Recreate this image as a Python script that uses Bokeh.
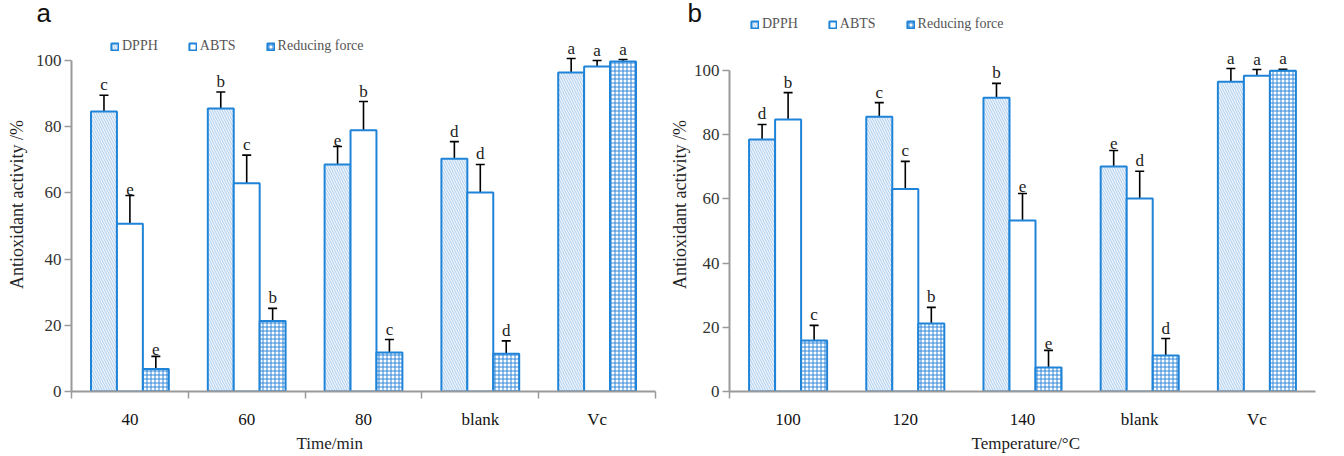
from bokeh.plotting import figure
from bokeh.models import (ColumnDataSource, Range1d, FixedTicker, Whisker, TeeHead,
                          Legend, LegendItem, Title)
from bokeh.transform import dodge
from bokeh.layouts import row
from bokeh.core.properties import value
from bokeh.embed import file_html
from bokeh.resources import INLINE

# ---------------- data ----------------
series_names = ["DPPH", "ABTS", "Reducing force"]

cats_a = ["40", "60", "80", "blank", "Vc"]
dpph_a = [84.6, 85.5, 68.6, 70.3, 96.4]
dpph_a_err = [4.9, 5.0, 5.4, 5.2, 4.2]
abts_a = [50.7, 62.9, 78.9, 60.1, 98.2]
abts_a_err = [8.5, 8.5, 8.7, 8.5, 1.8]
rf_a = [6.8, 21.3, 11.8, 11.4, 99.7]
rf_a_err = [3.8, 3.8, 3.9, 3.9, 0.6]
dpph_a_lab = ["c", "b", "e", "d", "a"]
abts_a_lab = ["e", "c", "b", "d", "a"]
rf_a_lab = ["e", "b", "c", "d", "a"]

cats_b = ["100", "120", "140", "blank", "Vc"]
dpph_b = [78.5, 85.6, 91.5, 70.1, 96.5]
dpph_b_err = [4.7, 4.4, 4.5, 5.0, 4.1]
abts_b = [84.7, 63.1, 53.3, 60.1, 98.4]
abts_b_err = [8.4, 8.6, 8.4, 8.5, 1.9]
rf_b = [15.9, 21.2, 7.5, 11.2, 99.9]
rf_b_err = [4.7, 5.0, 5.3, 5.3, 0.5]
dpph_b_lab = ["d", "c", "b", "e", "a"]
abts_b_lab = ["b", "c", "e", "d", "a"]
rf_b_lab = ["c", "b", "e", "d", "a"]

y_ticks = [0, 20, 40, 60, 80, 100]

SERIF = "Liberation Serif"
SANS = "Liberation Sans"
BLUE = "#1f84d8"
AXIS = "#9a9a9a"
W = 0.222
TOP = 17
BOTTOM = 65


def make_panel(cats, vals, errs, labs, xtitle, letter, g):
    n = len(cats)
    data = dict(xc=[i + 0.5 for i in range(n)])
    keys = ["d", "a", "r"]
    for k, v, e, l in zip(keys, vals, errs, labs):
        data[k] = v
        data[k + "_hi"] = [a + b for a, b in zip(v, e)]
        data[k + "_lab"] = l
    src = ColumnDataSource(data)

    yend = (456 - BOTTOM - TOP) / g["ppu"]
    p = figure(width=g["width"], height=456, output_backend="svg", toolbar_location=None,
               x_range=Range1d(0, n), y_range=Range1d(0, yend),
               min_border_left=g["left"], min_border_right=g["right"],
               min_border_top=TOP, min_border_bottom=BOTTOM)
    p.outline_line_color = None
    p.xgrid.visible = False
    p.ygrid.visible = False

    # x axis
    xa = p.xaxis[0]
    xa.ticker = FixedTicker(ticks=[i + 0.5 for i in range(n)], minor_ticks=g["xminor"])
    xa.major_label_overrides = {i + 0.5: c for i, c in enumerate(cats)}
    xa.major_tick_line_color = None
    xa.major_tick_in = 0
    xa.major_tick_out = 0
    xa.minor_tick_in = 0
    xa.minor_tick_out = 7
    xa.minor_tick_line_color = AXIS
    xa.minor_tick_line_width = 1.5
    xa.axis_line_color = AXIS
    xa.axis_line_width = 2
    xa.major_label_text_font = SERIF
    xa.major_label_text_font_size = "17px"
    xa.major_label_text_color = "#111111"
    xa.major_label_standoff = 11

    # y axis
    ya = p.yaxis[0]
    ya.ticker = FixedTicker(ticks=y_ticks)
    ya.bounds = (0, 100)
    ya.minor_tick_line_color = None
    ya.major_tick_in = 0
    ya.major_tick_out = 7
    ya.major_tick_line_color = AXIS
    ya.major_tick_line_width = 1.5
    ya.axis_line_color = AXIS
    ya.axis_line_width = 2
    ya.major_label_text_font = SERIF
    ya.major_label_text_font_size = "17px"
    ya.major_label_text_color = "#333333"
    ya.major_label_standoff = 3
    ya.axis_label = "Antioxidant activity /%"
    ya.axis_label_text_font = SERIF
    ya.axis_label_text_font_style = "normal"
    ya.axis_label_text_font_size = "18px"
    ya.axis_label_text_color = "#222222"
    ya.axis_label_standoff = g["ylab_standoff"]

    styles = [
        dict(fill_color="#edf4fc", hatch_pattern="\\", hatch_color="#aecdef", hatch_scale=5, hatch_weight=1),
        dict(fill_color="white"),
        dict(fill_color="white", hatch_pattern="+", hatch_color="#2f86d8", hatch_scale=4, hatch_weight=1),
    ]
    offs = [-W, 0, W]
    rends = []
    for k, off, st in zip(keys, offs, styles):
        r = p.vbar(x=dodge("xc", off), top=k, width=W, source=src,
                   line_color=BLUE, line_width=2, **st)
        rends.append(r)
        p.add_layout(Whisker(source=src, base=dodge("xc", off), lower=k, upper=k + "_hi",
                             dimension="height", line_color="black", line_width=1.6,
                             upper_head=TeeHead(size=9, line_color="black", line_width=1.6),
                             lower_head=None))
        p.text(x=dodge("xc", off), y=k + "_hi", text=k + "_lab", source=src,
               text_align="center", text_baseline="bottom", y_offset=-1,
               text_font=value(SERIF), text_font_size="17px", text_color="#222222")

    legend = Legend(items=[LegendItem(label=nm, renderers=[r]) for nm, r in zip(series_names, rends)],
                    orientation="horizontal", location=g["legend_loc"],
                    glyph_width=9, glyph_height=9, label_height=14, label_standoff=3,
                    spacing=30, padding=0, margin=0, border_line_color=None,
                    background_fill_alpha=0,
                    label_text_font=SERIF, label_text_font_size="14px", label_text_color="#555555")
    p.add_layout(legend)

    p.add_layout(Title(text=letter, align="left", offset=g["letter_off"], standoff=-40,
                       vertical_align="top",
                       text_font=SANS, text_font_size="26px", text_font_style="normal",
                       text_color="#111111"), "above")

    p.add_layout(Title(text=xtitle, align="left", offset=g["xtitle_off"], standoff=0,
                       text_font=SERIF, text_font_size="17px", text_font_style="normal",
                       text_color="#222222"), "below")
    return p


ga = dict(width=666, left=71, right=11, ppu=3.31,
          xminor=[0, 1, 2, 3, 4, 5], ylab_standoff=6, legend_loc=(39, 337),
          letter_off=-35, xtitle_off=225)
gb = dict(width=678, left=62, right=29, ppu=3.21,
          xminor=[0], ylab_standoff=1, legend_loc=(21, 359),
          letter_off=-42, xtitle_off=242)

pa = make_panel(cats_a, [dpph_a, abts_a, rf_a], [dpph_a_err, abts_a_err, rf_a_err],
                [dpph_a_lab, abts_a_lab, rf_a_lab], "Time/min", "a", ga)
pb = make_panel(cats_b, [dpph_b, abts_b, rf_b], [dpph_b_err, abts_b_err, rf_b_err],
                [dpph_b_lab, abts_b_lab, rf_b_lab], "Temperature/\u00b0C", "b", gb)

layout = row(pa, pb)
open("out.html", "w").write(file_html(layout, INLINE))
